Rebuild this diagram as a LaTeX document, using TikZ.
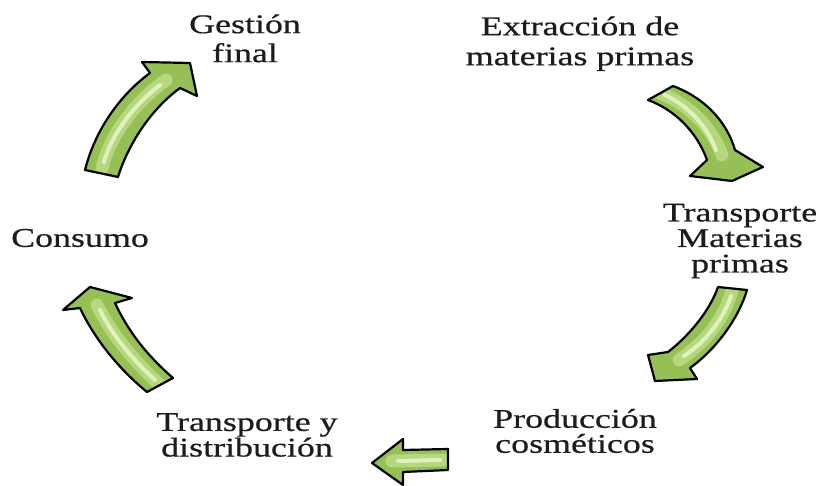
\documentclass[tikz,border=0pt]{standalone}
\usepackage{fontspec}
\setmainfont{Liberation Serif}[FakeStretch=1.33,FakeBold=0.6]
\definecolor{arrowfill}{HTML}{96BF55}
\definecolor{arrowglow}{HTML}{BEDD88}
\definecolor{arrowhl}{HTML}{E8F6C8}
\definecolor{txt}{HTML}{1C1C1C}
\begin{document}
\begin{tikzpicture}[x=1pt,y=-1pt,
  blockarrow/.style={fill=arrowfill, draw=black, line width=2.2pt, line join=round},
  glow/.style={draw=arrowglow, line width=13pt, line cap=round, opacity=0.8},
  shine/.style={draw=arrowhl, line width=4pt, line cap=round, opacity=0.85},
  lbl/.style={align=center, inner sep=0pt, text=txt}]
\useasboundingbox[fill=white] (0,0) rectangle (822,486);

% arrow Consumo -> Gestion final
\path[blockarrow, path picture={
    \draw[glow] (102,168) .. controls (110,135) and (135,102) .. (166,80);
    \draw[shine] (104,162) .. controls (112,133) and (135,104) .. (160,85);}]
  (85,170) .. controls (95,130) and (120,95) .. (150,73) -- (142,62) -- (190,63)
  -- (197,96) -- (180,88) .. controls (150,110) and (128,145) .. (118,177) -- cycle;

% arrow Extraccion -> Transporte Materias primas
\path[blockarrow, path picture={
    \draw[glow] (660,93) .. controls (690,105) and (712,128) .. (722,155);
    \draw[shine] (665,95) .. controls (690,107) and (708,128) .. (716,150);}]
  (673,86) .. controls (705,98) and (727,122) .. (735,150) -- (763,167) -- (732,181)
  -- (690,176) -- (707,160) .. controls (697,132) and (675,110) .. (648,100) -- cycle;

% arrow Transporte Materias primas -> Produccion
\path[blockarrow, path picture={
    \draw[glow] (732,290) .. controls (725,318) and (705,343) .. (679,360);
    \draw[shine] (731,296) .. controls (723,320) and (705,342) .. (684,356);}]
  (747,290) .. controls (738,320) and (715,350) .. (690,368) -- (697,379) -- (655,381)
  -- (648,355) -- (668,352) .. controls (690,335) and (710,310) .. (718,287) -- cycle;

% arrow Produccion -> Transporte y distribucion
\path[blockarrow, path picture={
    \draw[glow] (445,460) -- (392,461);
    \draw[shine] (440,460) -- (398,461);}]
  (448,449) -- (448,470) -- (403,472) -- (403,485) -- (372,463) -- (403,439)
  -- (403,450) -- cycle;

% arrow Transporte y distribucion -> Consumo
\path[blockarrow, path picture={
    \draw[glow] (160,385) .. controls (135,362) and (112,335) .. (97,305);
    \draw[shine] (155,380) .. controls (133,360) and (112,335) .. (100,310);}]
  (147,392) .. controls (120,370) and (95,340) .. (80,308) -- (63,310) -- (90,287)
  -- (132,298) -- (115,303) .. controls (130,335) and (150,358) .. (173,378) -- cycle;

% labels
\node[lbl, font=\fontsize{27}{29}\selectfont] (gestion) at (245,38.4) {Gestión\\final};
\node[lbl, font=\fontsize{27}{30}\selectfont] (extraccion) at (580,43.7) {Extracción de\\materias primas};
\node[lbl, font=\fontsize{27}{25.5}\selectfont] (transmp) at (740,241) {Transporte\\Materias\\primas};
\node[lbl, font=\fontsize{27}{25}\selectfont] (consumo) at (80,238) {Consumo};
\node[lbl, font=\fontsize{27}{24}\selectfont] (transdist) at (247,435) {Transporte y\\distribución};
\node[lbl, font=\fontsize{27}{25}\selectfont] (produccion) at (575,431) {Producción\\cosméticos};
\end{tikzpicture}
\end{document}
